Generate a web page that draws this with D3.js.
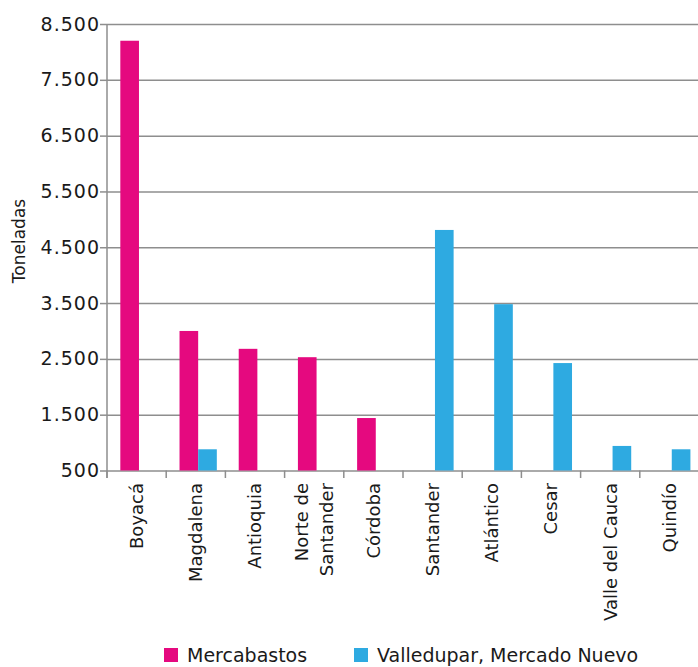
<!DOCTYPE html>
<html>
<head>
<meta charset="utf-8">
<script src="https://cdn.jsdelivr.net/npm/d3@7"></script>
<style>
  html, body { margin: 0; padding: 0; background: #fff; }
  svg { display: block; font-family: "DejaVu Sans", sans-serif; }
</style>
</head>
<body>
<svg id="chart" width="698" height="667"></svg>
<script>
const categories = ["Boyacá", "Magdalena", "Antioquia", "Norte de\nSantander", "Córdoba",
  "Santander", "Atlántico", "Cesar", "Valle del Cauca", "Quindío"];
const seriesNames = ["Mercabastos", "Valledupar, Mercado Nuevo"];
const mercabastos = [8200, 3000, 2680, 2530, 1440, null, null, null, null, null];
const valledupar = [null, 880, null, null, null, 4810, 3480, 2425, 940, 880];
const yTicks = [500, 1500, 2500, 3500, 4500, 5500, 6500, 7500, 8500];
const colors = ["#e5097f", "#2eaae1"];
const yLabel = "Toneladas";

(function () {
const svg = d3.select("#chart");
const mLeft = 107, mRight = 699, mTop = 24, mBottom = 470.5;
const gridColor = "#8e8e8e";

const y = d3.scaleLinear().domain([500, 8500]).range([mBottom, mTop]);
const x0 = d3.scaleBand().domain(categories).range([mLeft, mRight]).padding(0);
const bw = x0.bandwidth();
const x1 = d3.scaleBand().domain(seriesNames).range([0.225 * bw, 0.855 * bw]).padding(0);

const fmt = v => d3.format(",")(v).replace(/,/g, ".");

// gridlines + y ticks
const yAxis = d3.axisLeft(y).tickValues(yTicks).tickSize(7).tickFormat(fmt).tickPadding(0);
const gy = svg.append("g").attr("transform", `translate(${mLeft},0)`).call(yAxis);
gy.select(".domain").remove();
gy.selectAll(".tick line").attr("stroke", gridColor).attr("stroke-width", 1.5);
gy.selectAll(".tick text")
  .attr("font-size", 19).attr("fill", "#1a1a1a")
  .attr("font-family", "DejaVu Sans, sans-serif")
  .attr("letter-spacing", "1px");
gy.selectAll(".tick").append("line")
  .attr("x1", 0).attr("x2", mRight - mLeft)
  .attr("stroke", gridColor).attr("stroke-width", 1.5);

// y axis vertical line
svg.append("line")
  .attr("x1", mLeft).attr("x2", mLeft).attr("y1", mTop).attr("y2", mBottom + 7.5)
  .attr("stroke", gridColor).attr("stroke-width", 1.5);

// x axis ticks at band boundaries
svg.append("g").selectAll("line.xt").data(categories).join("line")
  .attr("class", "xt")
  .attr("x1", d => x0(d)).attr("x2", d => x0(d))
  .attr("y1", mBottom).attr("y2", mBottom + 7.5)
  .attr("stroke", gridColor).attr("stroke-width", 1.5);

// bars
const seriesData = [mercabastos, valledupar];
seriesData.forEach((vals, si) => {
  svg.append("g").selectAll("rect")
    .data(categories.map((c, i) => ({ c, v: vals[i] })).filter(d => d.v != null))
    .join("rect")
    .attr("x", d => x0(d.c) + x1(seriesNames[si]))
    .attr("width", x1.bandwidth())
    .attr("y", d => y(d.v))
    .attr("height", d => y(500) - y(d.v))
    .attr("fill", colors[si]);
});

// category labels
categories.forEach(c => {
  const lines = c.split("\n");
  const cx = x0(c) + bw / 2;
  const t = svg.append("text")
    .attr("transform", `translate(${cx},483) rotate(-90)`)
    .attr("text-anchor", "end")
    .attr("font-size", 18).attr("fill", "#1a1a1a");
  const lh = 25;
  lines.forEach((l, i) => {
    t.append("tspan")
      .attr("x", 0)
      .attr("dy", i === 0 ? (6.3 - (lines.length - 1) * lh / 2) + "px" : lh + "px")
      .text(l);
  });
});

// y label
svg.append("text")
  .attr("transform", "translate(25,241) rotate(-90)")
  .attr("text-anchor", "middle")
  .attr("font-size", 17).attr("fill", "#1a1a1a")
  .text(yLabel);

// legend
const legendX = [164, 354];
seriesNames.forEach((s, i) => {
  svg.append("rect").attr("x", legendX[i]).attr("y", 648).attr("width", 14).attr("height", 14)
    .attr("fill", colors[i]);
  svg.append("text").attr("x", legendX[i] + 23).attr("y", 662)
    .attr("font-size", 19).attr("fill", "#1a1a1a").text(s);
});
})();
</script>
</body>
</html>
